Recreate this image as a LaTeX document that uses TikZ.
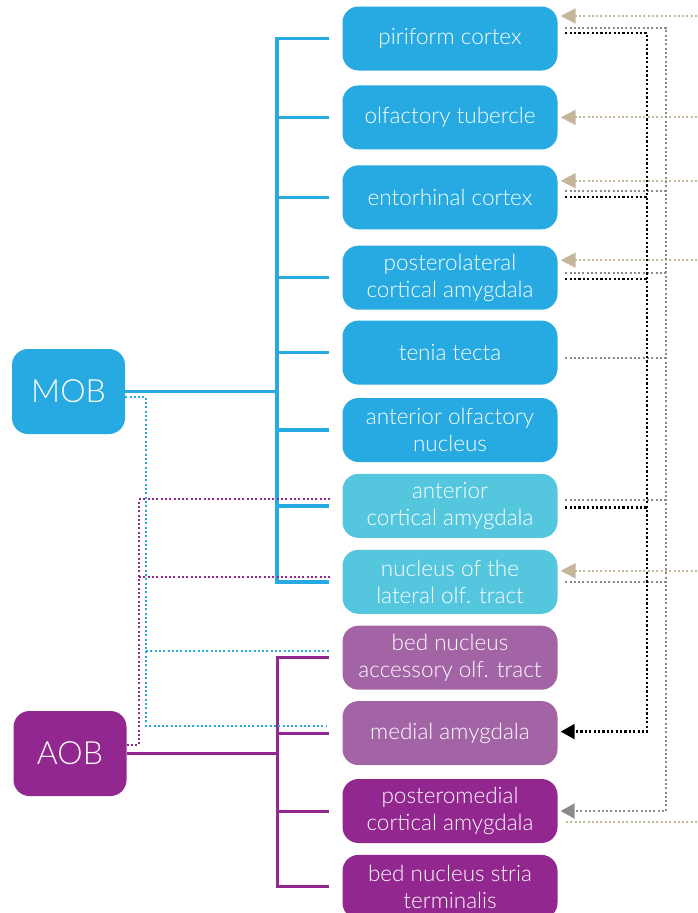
\documentclass[tikz,border=0pt]{standalone}
\usepackage{fontspec}
\setmainfont{Lato Light}
\usetikzlibrary{arrows.meta,positioning}

\definecolor{mobblue}{HTML}{27AAE1}
\definecolor{aclight}{HTML}{54C7DF}
\definecolor{aobmauve}{HTML}{A364A6}
\definecolor{aobpurple}{HTML}{92278F}
\definecolor{tanline}{HTML}{C4B59B}
\definecolor{grayline}{HTML}{8A8A8A}

\begin{document}
\begin{tikzpicture}[
    x=1pt, y=-1pt,
    node distance=11.5pt,
    region/.style={rounded corners=16pt, minimum width=215pt, minimum height=64pt, inner sep=2pt, text=white, align=center, font=\fontsize{22.5}{27}\selectfont},
    bulb/.style={rounded corners=16pt, minimum width=113pt, minimum height=85pt, text=white, font=\fontsize{32}{36}\selectfont},
    mainreg/.style={region, fill=mobblue},
    cortical/.style={region, fill=aclight},
    accessory/.style={region, fill=aobmauve},
    vomero/.style={region, fill=aobpurple},
    mobline/.style={draw=mobblue, line width=3.5pt},
    aobline/.style={draw=aobpurple, line width=3pt},
    mobdot/.style={draw=mobblue, line width=2pt, dash pattern=on 2pt off 2.3pt},
    aobdot/.style={draw=aobpurple, line width=2pt, dash pattern=on 2pt off 2.3pt},
    tanarrow/.style={draw=tanline, line width=2pt, dash pattern=on 2pt off 2.3pt, -{Triangle[length=15pt,width=15pt]}},
    graydot/.style={draw=grayline, line width=2pt, dash pattern=on 2pt off 2.3pt},
    blackdot/.style={draw=black, line width=2.3pt, dash pattern=on 2.2pt off 2.2pt}
]
\useasboundingbox (0,0) rectangle (697,913);

% Bulbs
\node[bulb, fill=mobblue] (mob) at (68.5,391.5) {MOB};
\node[bulb, fill=aobpurple] (aob) at (70,753.5) {AOB};

% Target regions
\node[mainreg] (pir) at (450,38.5) {piriform cortex};
\node[mainreg, below=14.5pt of pir] (olf) {olfactory tubercle};
\node[mainreg, below=15.5pt of olf] (ent) {entorhinal cortex};
\node[mainreg, below=16pt of ent] (plca) {posterolateral\\cortical amygdala};
\node[mainreg, below=10.5pt of plca] (tt) {tenia tecta};
\node[mainreg, below=13pt of tt] (aon) {anterior olfactory\\nucleus};
\node[cortical, below=of aon] (aca) {anterior\\cortical amygdala};
\node[cortical, below=of aca] (nlot) {nucleus of the\\lateral olf. tract};
\node[accessory, below=of nlot] (bnaot) {bed nucleus\\accessory olf. tract};
\node[accessory, below=11pt of bnaot] (ma) {medial amygdala};
\node[vomero, below=13.5pt of ma] (pmca) {posteromedial\\cortical amygdala};
\node[vomero, below=of pmca] (bnst) {bed nucleus stria\\terminalis};

\coordinate (spine) at (277,0);
\coordinate (mobdrop) at (146,0);
\coordinate (aobrise) at (139,0);
\coordinate (blackx) at (647,0);
\coordinate (grayx) at (666,0);
\coordinate (edge) at (697,0);

% MOB tree
\draw[mobline] (mob.east) -- (mob.east -| spine);
\draw[mobline] ([xshift=-13pt]pir.west) -| (spine |- nlot.west) -- ([xshift=-13pt]nlot.west);
\foreach \n in {olf,ent,plca,tt,aon,aca}
    \draw[mobline] (spine |- \n.west) -- ([xshift=-13pt]\n.west);

% AOB tree
\draw[aobline] (aob.east) -- (aob.east -| spine);
\draw[aobline] ([xshift=-13pt]bnaot.west) -| (spine |- bnst.west) -- ([xshift=-13pt]bnst.west);
\foreach \n in {ma,pmca}
    \draw[aobline] (spine |- \n.west) -- ([xshift=-13pt]\n.west);

% Crossing projections
\draw[mobdot] ([yshift=-5.5pt]mob.east) -| ([yshift=7.5pt]ma.west -| mobdrop) -- ([xshift=-16.5pt,yshift=7.5pt]ma.west);
\draw[mobdot] ([yshift=6.5pt]bnaot.west -| mobdrop) -- ([xshift=-12.5pt,yshift=6.5pt]bnaot.west);
\draw[aobdot] ([yshift=8.5pt]aob.east) -| ([yshift=6.5pt]aca.west -| aobrise) -- ([xshift=-12.5pt,yshift=6.5pt]aca.west);
\draw[aobdot] ([yshift=5pt]nlot.west -| aobrise) -- ([xshift=-12.5pt,yshift=5pt]nlot.west);

% Inputs from the right
\foreach \n/\s in {pir/22.5pt, olf/0pt, ent/16.5pt, plca/17.5pt, nlot/11pt}
    \draw[tanarrow] ([yshift=\s]\n.east -| edge) -- ([xshift=3pt,yshift=\s]\n.east);
\draw[tanarrow, -] ([yshift=-11pt]pmca.east -| edge) -- ([xshift=7.5pt,yshift=-11pt]pmca.east);

% Feedback to posteromedial cortical amygdala
\draw[graydot, -{Triangle[length=14pt,width=15pt]}] ([xshift=7.5pt,yshift=10.5pt]pir.east) -| (pmca.east -| grayx) -- ([xshift=3pt]pmca.east);
\foreach \n/\s in {ent/6.5pt, plca/4.5pt, tt/-5pt, aca/5.5pt, nlot/0pt}
    \draw[graydot] ([xshift=7.5pt,yshift=\s]\n.east) -- ([yshift=\s]\n.east -| grayx);

% Feedback to medial amygdala
\draw[blackdot, -{Triangle[length=14pt,width=15pt]}] ([xshift=7.5pt,yshift=5.5pt]pir.east) -| ([yshift=1.5pt]ma.east -| blackx) -- ([xshift=3pt,yshift=1.5pt]ma.east);
\foreach \n/\s in {ent/0.5pt, plca/-1.5pt, aca/-1.5pt}
    \draw[blackdot] ([xshift=7.5pt,yshift=\s]\n.east) -- ([yshift=\s]\n.east -| blackx);

\end{tikzpicture}
\end{document}
